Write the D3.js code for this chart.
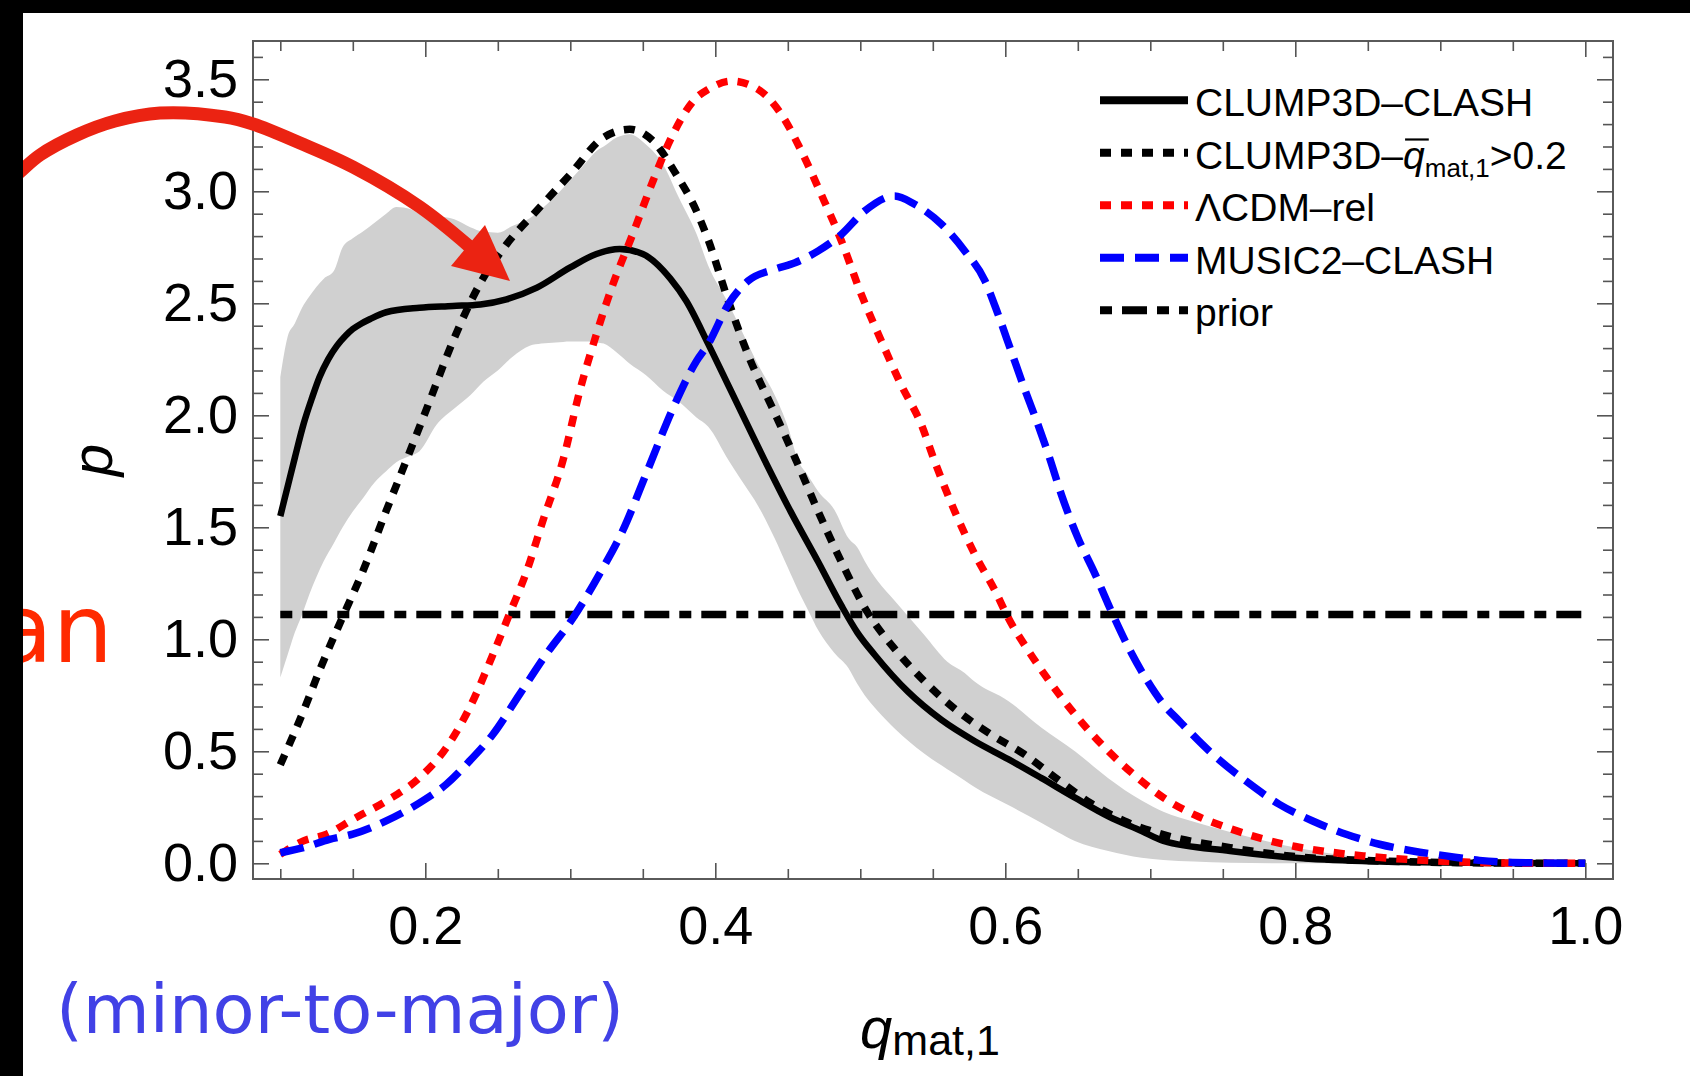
<!DOCTYPE html>
<html>
<head>
<meta charset="utf-8">
<script src="https://cdnjs.cloudflare.com/ajax/libs/d3/7.8.5/d3.min.js"></script>
<style>
  body { margin: 0; background: #fff; }
  svg { display: block; }
  text { font-family: "Liberation Sans", Arial, sans-serif; }
</style>
</head>
<body>
<svg id="chart" width="1690" height="1076"></svg>
<script>
// curves: [q_mat,1 , p]
var clumpClash = [[0.100,1.55],[0.105,1.68],[0.110,1.81],[0.116,1.96],[0.122,2.08],[0.127,2.17],[0.133,2.25],[0.139,2.31],[0.145,2.355],[0.150,2.385],[0.156,2.41],[0.162,2.43],[0.173,2.46],[0.196,2.48],[0.219,2.488],[0.238,2.495],[0.256,2.518],[0.277,2.57],[0.300,2.66],[0.318,2.72],[0.334,2.742],[0.350,2.72],[0.369,2.61],[0.380,2.51],[0.395,2.32],[0.410,2.12],[0.434,1.80],[0.452,1.57],[0.471,1.345],[0.487,1.15],[0.498,1.03],[0.510,0.93],[0.533,0.765],[0.556,0.64],[0.579,0.545],[0.602,0.465],[0.625,0.38],[0.648,0.293],[0.671,0.21],[0.694,0.144],[0.709,0.10],[0.755,0.055],[0.800,0.025],[0.846,0.01],[0.900,0.004],[0.950,0.001],[1.000,0.0]];

var clumpCut = [[0.100,0.44],[0.116,0.68],[0.127,0.86],[0.143,1.10],[0.157,1.305],[0.173,1.573],[0.187,1.80],[0.203,2.064],[0.219,2.33],[0.2375,2.585],[0.256,2.763],[0.2766,2.912],[0.300,3.076],[0.3226,3.239],[0.341,3.277],[0.357,3.225],[0.373,3.076],[0.387,2.912],[0.395,2.785],[0.409,2.51],[0.4226,2.27],[0.441,2.01],[0.455,1.81],[0.471,1.57],[0.487,1.345],[0.505,1.12],[0.524,0.955],[0.544,0.814],[0.567,0.68],[0.590,0.576],[0.613,0.487],[0.636,0.375],[0.659,0.268],[0.682,0.189],[0.709,0.128],[0.755,0.07],[0.800,0.03],[0.850,0.012],[0.900,0.004],[0.950,0.001],[1.000,0.0]];

var lcdmRel = [[0.100,0.04],[0.116,0.10],[0.132,0.13],[0.150,0.196],[0.173,0.278],[0.196,0.382],[0.2145,0.516],[0.2306,0.695],[0.2467,0.933],[0.258,1.112],[0.270,1.305],[0.281,1.528],[0.295,1.80],[0.3065,2.108],[0.318,2.362],[0.3294,2.585],[0.343,2.808],[0.357,3.046],[0.3686,3.225],[0.387,3.418],[0.395,3.455],[0.411,3.492],[0.4295,3.455],[0.4455,3.344],[0.4593,3.18],[0.473,2.987],[0.487,2.778],[0.5007,2.54],[0.5145,2.332],[0.528,2.138],[0.542,1.96],[0.551,1.80],[0.565,1.573],[0.579,1.379],[0.593,1.216],[0.602,1.096],[0.616,0.948],[0.632,0.799],[0.648,0.665],[0.671,0.501],[0.694,0.367],[0.709,0.293],[0.731,0.215],[0.755,0.155],[0.778,0.108],[0.800,0.075],[0.824,0.05],[0.847,0.033],[0.881,0.016],[0.920,0.005],[0.950,0.001],[1.000,0.0]];

var music2 = [[0.100,0.047],[0.116,0.07],[0.134,0.107],[0.150,0.13],[0.173,0.189],[0.196,0.27],[0.2145,0.353],[0.2306,0.457],[0.2467,0.576],[0.265,0.754],[0.2834,0.933],[0.302,1.096],[0.320,1.29],[0.336,1.483],[0.353,1.75],[0.371,2.034],[0.387,2.242],[0.395,2.317],[0.409,2.496],[0.4226,2.60],[0.441,2.652],[0.455,2.681],[0.471,2.734],[0.487,2.808],[0.503,2.912],[0.5237,2.979],[0.5375,2.942],[0.556,2.853],[0.572,2.734],[0.586,2.60],[0.595,2.451],[0.604,2.287],[0.613,2.123],[0.623,1.95],[0.630,1.82],[0.639,1.64],[0.650,1.454],[0.662,1.29],[0.671,1.156],[0.685,0.963],[0.698,0.814],[0.709,0.71],[0.720,0.635],[0.743,0.487],[0.766,0.367],[0.789,0.263],[0.812,0.189],[0.835,0.13],[0.858,0.085],[0.881,0.055],[0.904,0.033],[0.927,0.013],[0.950,0.004],[1.000,0.0]];

var prior = [[0.1,1.111],[1.0,1.111]];

// shaded range around CLUMP3D-CLASH: [q, low, high]
var band = [[0.100,0.83,2.17],[0.105,0.93,2.35],[0.110,1.03,2.41],[0.115,1.11,2.48],[0.120,1.20,2.53],[0.130,1.35,2.61],[0.137,1.43,2.645],[0.143,1.50,2.75],[0.150,1.57,2.79],[0.157,1.63,2.82],[0.165,1.70,2.86],[0.173,1.75,2.90],[0.180,1.79,2.93],[0.190,1.82,2.92],[0.196,1.84,2.90],[0.208,1.96,2.89],[0.220,2.03,2.875],[0.231,2.09,2.84],[0.240,2.15,2.82],[0.250,2.20,2.815],[0.260,2.26,2.845],[0.272,2.31,2.88],[0.280,2.32,2.92],[0.290,2.325,2.98],[0.300,2.33,3.05],[0.311,2.33,3.13],[0.318,2.325,3.18],[0.323,2.32,3.20],[0.332,2.28,3.24],[0.341,2.23,3.255],[0.352,2.18,3.21],[0.364,2.11,3.12],[0.375,2.06,2.97],[0.387,1.99,2.81],[0.395,1.95,2.67],[0.409,1.80,2.50],[0.418,1.71,2.38],[0.430,1.59,2.22],[0.441,1.45,2.09],[0.450,1.32,1.95],[0.457,1.22,1.80],[0.464,1.13,1.73],[0.471,1.04,1.66],[0.482,0.94,1.58],[0.492,0.87,1.45],[0.498,0.80,1.41],[0.503,0.75,1.35],[0.512,0.68,1.26],[0.524,0.60,1.17],[0.544,0.49,1.02],[0.560,0.42,0.90],[0.572,0.37,0.85],[0.579,0.34,0.81],[0.602,0.26,0.725],[0.625,0.18,0.605],[0.636,0.14,0.555],[0.648,0.10,0.50],[0.671,0.055,0.38],[0.694,0.025,0.28],[0.709,0.015,0.23],[0.730,0.008,0.185],[0.755,0.003,0.14],[0.800,0.0,0.07],[0.846,0.0,0.025],[0.870,0.0,0.01],[0.900,0.0,0.003],[0.950,0.0,0.0],[1.000,0.0,0.0]];

var xMajor = [0.2, 0.4, 0.6, 0.8, 1.0];
var yMajor = [0.0, 0.5, 1.0, 1.5, 2.0, 2.5, 3.0, 3.5];
var xMinor = d3.range(0.1, 1.0001, 0.05).filter(function(v) { return Math.abs(v * 5 - Math.round(v * 5)) > 1e-6; });
var yMinor = d3.range(0.1, 3.65, 0.1).filter(function(v) { return Math.abs(v * 2 - Math.round(v * 2)) > 1e-6; });

var legendNames = ["CLUMP3D\u2013CLASH", "CLUMP3D\u2013", "\u039BCDM\u2013rel", "MUSIC2\u2013CLASH", "prior"];

var svgB = d3.select("#chart");
var frameL = 253, frameR = 1613, frameT = 41, frameB = 879;

var x = d3.scaleLinear().domain([0.08117, 1.0191]).range([frameL, frameR]);
var y = d3.scaleLinear().domain([-0.0701, 3.671]).range([frameB, frameT]);

svgB.append("rect").attr("width", 1690).attr("height", 1076).attr("fill", "#fff");

// gray band
var area = d3.area()
    .x(function(d) { return x(d[0]); })
    .y0(function(d) { return y(d[1]); })
    .y1(function(d) { return y(d[2]); })
    .curve(d3.curveMonotoneX);
svgB.append("path").datum(band).attr("d", area).attr("fill", "#d0d0d0");

var line = d3.line()
    .x(function(d) { return x(d[0]); })
    .y(function(d) { return y(d[1]); })
    .curve(d3.curveMonotoneX);

var series = [
  {data: clumpClash, color: "#000", width: 6.5, dash: null},
  {data: clumpCut, color: "#000", width: 7.5, dash: "11,10"},
  {data: lcdmRel, color: "#ff0000", width: 7.5, dash: "11,10"},
  {data: music2, color: "#0000ff", width: 7.5, dash: "24,11"},
  {data: prior, color: "#000", width: 7.5, dash: "12,10,25,10"}
];

var drawOrder = [4, 0, 1, 2, 3];
drawOrder.forEach(function(i) {
  var s = series[i];
  svgB.append("path").datum(s.data)
      .attr("d", line)
      .attr("fill", "none")
      .attr("stroke", s.color)
      .attr("stroke-width", s.width)
      .attr("stroke-dasharray", s.dash);
});

// frame + ticks
svgB.append("rect")
    .attr("x", frameL).attr("y", frameT)
    .attr("width", frameR - frameL).attr("height", frameB - frameT)
    .attr("fill", "none").attr("stroke", "#5a5a5a").attr("stroke-width", 2);

function tidy(g, withText) {
  g.attr("font-family", null).attr("font-size", null);
  g.select(".domain").remove();
  g.selectAll(".tick line").attr("stroke", "#555").attr("stroke-width", 1.6);
  if (withText) {
    g.selectAll(".tick text").attr("fill", "#000")
        .style("font-size", "54px")
        .style("font-family", "'Liberation Sans', Arial, sans-serif");
  }
}

svgB.append("g").attr("transform", "translate(0," + frameB + ")")
    .call(d3.axisBottom(x).tickValues(xMajor).tickSize(-16).tickPadding(27).tickFormat(d3.format(".1f")))
    .call(tidy, true);
svgB.append("g").attr("transform", "translate(0," + frameB + ")")
    .call(d3.axisBottom(x).tickValues(xMinor).tickSize(-10).tickFormat(""))
    .call(tidy, false);
svgB.append("g").attr("transform", "translate(0," + frameT + ")")
    .call(d3.axisTop(x).tickValues(xMajor).tickSize(-16).tickFormat(""))
    .call(tidy, false);
svgB.append("g").attr("transform", "translate(0," + frameT + ")")
    .call(d3.axisTop(x).tickValues(xMinor).tickSize(-10).tickFormat(""))
    .call(tidy, false);

svgB.append("g").attr("transform", "translate(" + frameL + ",0)")
    .call(d3.axisLeft(y).tickValues(yMajor).tickSize(-16).tickPadding(15).tickFormat(d3.format(".1f")))
    .call(tidy, true);
svgB.append("g").attr("transform", "translate(" + frameL + ",0)")
    .call(d3.axisLeft(y).tickValues(yMinor).tickSize(-10).tickFormat(""))
    .call(tidy, false);
svgB.append("g").attr("transform", "translate(" + frameR + ",0)")
    .call(d3.axisRight(y).tickValues(yMajor).tickSize(-16).tickFormat(""))
    .call(tidy, false);
svgB.append("g").attr("transform", "translate(" + frameR + ",0)")
    .call(d3.axisRight(y).tickValues(yMinor).tickSize(-10).tickFormat(""))
    .call(tidy, false);

// axis titles
var xt = svgB.append("text")
    .attr("x", 930).attr("y", 1048)
    .attr("text-anchor", "middle");
xt.append("tspan").attr("font-style", "italic").attr("font-size", 58).text("q");
xt.append("tspan").attr("font-size", 43).attr("dy", 7).text("mat,1");

svgB.append("text")
    .attr("transform", "translate(112,460) rotate(-90)")
    .attr("text-anchor", "middle")
    .attr("font-style", "italic")
    .attr("font-size", 58)
    .text("p");

// legend
var legend = svgB.selectAll(".legend")
    .data(series)
    .enter().append("g")
    .attr("class", "legend")
    .attr("transform", function(d, i) { return "translate(1100," + (100.3 + i * 52.5) + ")"; });

legend.append("line")
    .attr("x1", 0).attr("x2", 88)
    .attr("stroke", function(d) { return d.color; })
    .attr("stroke-width", 8)
    .attr("stroke-dasharray", function(d) { return d.dash; });

legend.append("text")
    .attr("x", 95).attr("y", 15.7)
    .attr("font-size", 39)
    .attr("fill", "#000")
    .each(function(d, i) {
      var t = d3.select(this);
      t.append("tspan").text(legendNames[i]);
      if (i === 1) {
        t.append("tspan").attr("font-style", "italic").text("q");
        t.append("tspan").attr("font-size", 26).attr("dy", 8).text("mat,1");
        t.append("tspan").attr("dy", -8).text(">0.2");
        var box = this.getExtentOfChar(legendNames[1].length);
        d3.select(this.parentNode).append("line")
            .attr("x1", box.x + 2).attr("x2", box.x + box.width + 4)
            .attr("y1", 15.7 - 29).attr("y2", 15.7 - 29)
            .attr("stroke", "#000").attr("stroke-width", 2.2);
      }
    });

// annotations sitting over the figure
var arrowPts = [[-4,194],[20,172],[40,155],[77,135],[115,121],[160,113],[225,117],[253,124],[300,143],[353,167],[420,207],[470,247]];
var arrowHead = [[485,225],[451,266],[510,281]];

svgB.append("path").datum(arrowPts)
    .attr("d", d3.line().curve(d3.curveCatmullRom))
    .attr("fill", "none")
    .attr("stroke", "#eb2312")
    .attr("stroke-width", 13);
svgB.append("path")
    .attr("d", "M" + arrowHead.join("L") + "Z")
    .attr("fill", "#eb2312");

svgB.append("text")
    .attr("x", 113).attr("y", 662)
    .attr("text-anchor", "end")
    .attr("font-size", 95)
    .style("font-family", "'DejaVu Sans', sans-serif")
    .attr("fill", "#ff2a00")
    .text("an");

svgB.append("text")
    .attr("x", 56).attr("y", 1033)
    .attr("font-size", 67)
    .attr("textLength", 568)
    .attr("lengthAdjust", "spacingAndGlyphs")
    .style("font-family", "'DejaVu Sans', sans-serif")
    .attr("fill", "#4141e6")
    .text("(minor-to-major)");

// screenshot edges
svgB.append("rect").attr("x", 0).attr("y", 0).attr("width", 1690).attr("height", 13).attr("fill", "#000");
svgB.append("rect").attr("x", 0).attr("y", 0).attr("width", 23).attr("height", 1076).attr("fill", "#000");
</script>
</body>
</html>
